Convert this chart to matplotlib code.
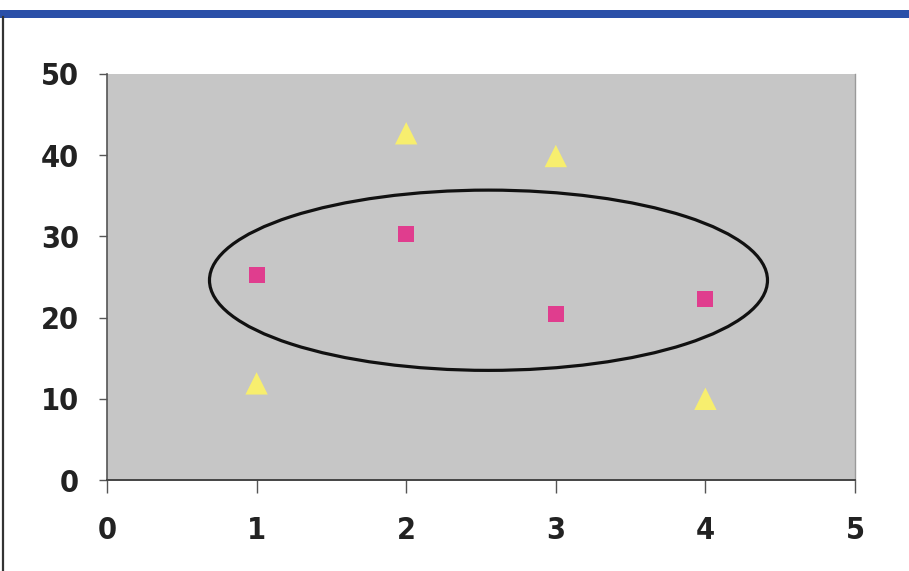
import matplotlib
matplotlib.use("Agg")
import matplotlib.pyplot as plt
from matplotlib.patches import Ellipse, Rectangle
from matplotlib.lines import Line2D

# Data
square_x = [1, 2, 3, 4]
square_y = [25.2, 30.3, 20.4, 22.3]
triangle_x = [1, 2, 3, 4]
triangle_y = [11.9, 42.7, 39.9, 10.0]

# Highlight ellipse around the square series (centre, width, height in data units)
ellipse_center = (2.55, 24.6)
ellipse_width = 3.73
ellipse_height = 22.2

x_ticks = [0, 1, 2, 3, 4, 5]
y_ticks = [0, 10, 20, 30, 40, 50]

font = ["DejaVu Sans", "Liberation Sans"]

fig = plt.figure(figsize=(9.09, 5.71), dpi=100)
fig.patch.set_facecolor("white")

# Blue header band and left frame line
fig.add_artist(Rectangle((0, 1 - 18 / 571), 1, 8 / 571, transform=fig.transFigure,
                         facecolor="#2a4fa8", edgecolor="none"))
fig.add_artist(Line2D([3 / 909, 3 / 909], [0, 1 - 17 / 571], transform=fig.transFigure,
                      color="#333333", lw=1.6))

ax = fig.add_axes([107 / 909, 1 - 480 / 571, (855 - 107) / 909, (480 - 74) / 571])
ax.set_facecolor("#c6c6c6")

ax.scatter(triangle_x, triangle_y, marker="^", s=260, color="#f7ee6e",
           edgecolors="none", zorder=3, clip_on=False)
ax.scatter(square_x, square_y, marker="s", s=135, color="#e03d8e",
           edgecolors="none", zorder=3, clip_on=False)

ax.add_patch(Ellipse(ellipse_center, ellipse_width, ellipse_height,
                     fill=False, edgecolor="#111111", lw=2.3, zorder=2))

ax.set_xlim(0, 5)
ax.set_ylim(0, 50)
ax.set_xticks(x_ticks)
ax.set_yticks(y_ticks)

ax.spines["top"].set_visible(False)
ax.spines["right"].set_color("#9a9a9a")
ax.spines["right"].set_linewidth(1.0)
ax.spines["left"].set_color("#555555")
ax.spines["left"].set_linewidth(1.2)
ax.spines["bottom"].set_color("#444444")
ax.spines["bottom"].set_linewidth(1.4)

ax.tick_params(axis="y", direction="out", length=6, width=1.0, color="#555555", pad=14)
ax.tick_params(axis="x", direction="out", length=9, width=1.0, color="#555555", pad=17)

for lbl in ax.get_xticklabels() + ax.get_yticklabels():
    lbl.set_fontfamily(font)
    lbl.set_fontweight("bold")
    lbl.set_fontstretch("condensed")
    lbl.set_fontsize(22)
    lbl.set_color("#222222")

fig.savefig("out.png", dpi=100, facecolor=fig.get_facecolor())
